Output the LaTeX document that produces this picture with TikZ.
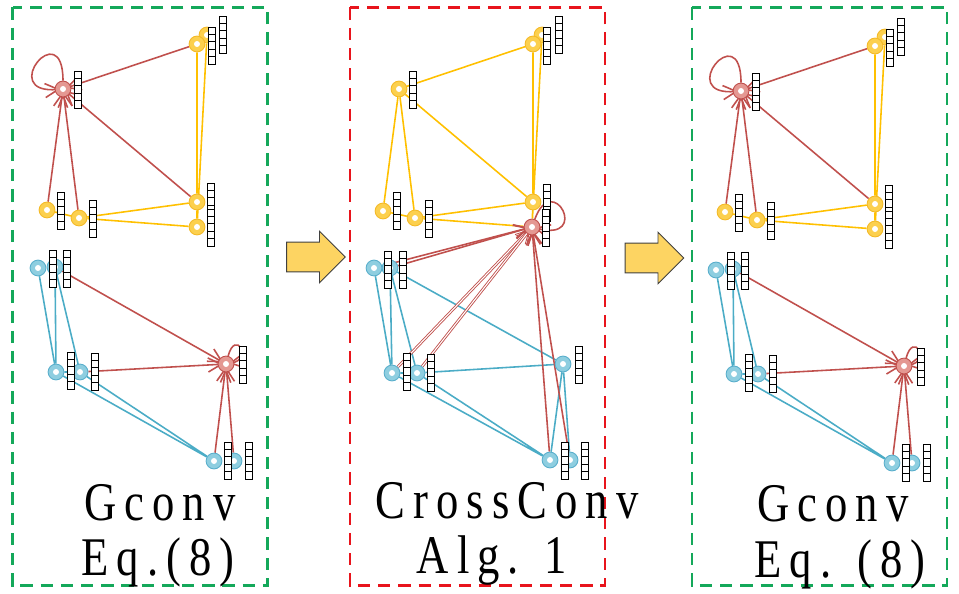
\documentclass[tikz,border=0pt]{standalone}
\usepackage{fontspec}
\usepackage{graphicx}
\usetikzlibrary{arrows.meta, shapes.arrows, backgrounds}
\newfontfamily\capfont[LetterSpace=18]{Liberation Serif}

\definecolor{gboxcol}{RGB}{20,168,90}
\definecolor{rboxcol}{RGB}{232,20,28}
\definecolor{yfill}{RGB}{252,208,78}
\definecolor{ydraw}{RGB}{244,186,40}
\definecolor{yline}{RGB}{255,192,0}
\definecolor{rfill}{RGB}{228,152,146}
\definecolor{rdraw}{RGB}{192,80,77}
\definecolor{rline}{RGB}{192,80,77}
\definecolor{bfill}{RGB}{142,206,224}
\definecolor{bdraw}{RGB}{90,175,204}
\definecolor{bline}{RGB}{75,172,198}
\definecolor{arrfill}{RGB}{253,212,98}

\tikzset{
  ringnd/.style={circle, minimum size=9pt, inner sep=0pt, line width=0.5pt,
    path picture={\fill[white] (path picture bounding box.center) circle (1.7pt);}},
  ynd/.style={ringnd, fill=yfill, draw=ydraw},
  rnd/.style={ringnd, fill=rfill, draw=rdraw},
  bnd/.style={ringnd, fill=bfill, draw=bdraw},
  yedge/.style={yline, line width=0.9pt},
  bedge/.style={bline, line width=0.9pt},
  redge/.style={rline, line width=0.9pt, -{Straight Barb[length=7.5pt, width=8pt]}, shorten >=-3pt},
  fvbox/.style={draw=black, fill=white, line width=0.5pt},
  gbox/.style={gboxcol, line width=1.2pt, dash pattern=on 7pt off 4.5pt},
  rbox/.style={rboxcol, line width=1.2pt, dash pattern=on 7pt off 4.5pt},
  bigarrow/.style={single arrow, draw=black!75, fill=arrfill, line width=0.5pt,
    inner sep=8.2pt, minimum height=33.4pt, single arrow head extend=6.2pt},
  lbl/.style={font=\capfont\fontsize{31}{34}\selectfont, anchor=base, inner sep=0pt}
}

% stack of five feature cells, top left corner given
\newcommand{\fvec}[2]{\foreach \k in {0,...,4} \draw[fvbox] (#1,#2+7.4*\k) rectangle ++(7.5,7.4);}
\newcommand{\narrowtxt}[1]{\scalebox{0.82}[1]{#1}}

% the two graphs of a Gconv panel
\newcommand{\gconvgraph}{%
  % upper graph
  \node[ynd] (y2) at (207,35) {};
  \node[ynd] (y1) at (197,44) {};
  \node[ynd] (y3) at (197,202) {};
  \node[ynd] (y4) at (197,227) {};
  \node[ynd] (y5) at (47,210) {};
  \node[ynd] (y6) at (79,218) {};
  \node[rnd] (r1) at (63,89) {};
  % lower graph
  \node[bnd] (b2) at (55,267) {};
  \node[bnd] (b1) at (38,268) {};
  \node[bnd] (b3) at (56,372) {};
  \node[bnd] (b4) at (80,372) {};
  \node[bnd] (b6) at (234,461) {};
  \node[bnd] (b5) at (214,461) {};
  \node[rnd] (r2) at (226,364) {};
  \begin{scope}[on background layer]
    \draw[yedge] (y1) -- (y3) (y2) -- (y4) (y3) -- (y4) (y5) -- (y6) (y6) -- (y3) (y6) -- (y4);
    \draw[redge] (y1) -- (r1);
    \draw[redge] (y3) -- (r1);
    \draw[redge] (y5) -- (r1);
    \draw[redge] (y6) -- (r1);
    \draw[redge] (r1) to[out=90, in=185, min distance=38pt] (r1);
    \draw[bedge] (b1) -- (b3) (b2) -- (b3) (b2) -- (b4) (b3) -- (b4) (b3) -- (b5) (b4) -- (b5);
    \draw[redge] (b2) -- (r2);
    \draw[redge] (b4) -- (r2);
    \draw[redge] (b5) -- (r2);
    \draw[redge] (b6) -- (r2);
    \draw[redge] (r2) to[out=75, in=10, min distance=16pt] (r2);
  \end{scope}
  % feature vectors
  \fvec{74}{71} \fvec{208}{27} \fvec{219}{16} \fvec{207}{183} \fvec{207}{209}
  \fvec{57}{192} \fvec{89}{200}
  \fvec{49}{250} \fvec{63}{250} \fvec{67}{352} \fvec{91}{353} \fvec{239}{346}
  \fvec{224}{442} \fvec{245}{442}
}

\begin{document}
\begin{tikzpicture}[x=0.02cm, y=-0.02cm]
  \useasboundingbox (0,0) rectangle (959,594);

  % Draw the boxes
  \draw[gbox] (12.5,7.5) rectangle (267.5,585.5);
  \draw[rbox] (350,7.5) rectangle (605,585.5);
  \draw[gbox] (692,7.5) rectangle (947,585.5);

  % first Gconv
  \begin{scope}[name prefix=pa-]
    \gconvgraph
  \end{scope}

  % CrossConv panel
  \node[ynd] (cy2) at (542,35) {};
  \node[ynd] (cy1) at (533,44) {};
  \node[ynd] (cya) at (399,89) {};
  \node[ynd] (cy3) at (533,202) {};
  \node[ynd] (cy5) at (383,211) {};
  \node[ynd] (cy6) at (415,218) {};
  \node[rnd] (cr) at (532,227) {};
  \node[bnd] (cb2) at (390,268) {};
  \node[bnd] (cb1) at (374,268) {};
  \node[bnd] (cb3) at (392,373) {};
  \node[bnd] (cb4) at (417,373) {};
  \node[bnd] (cbm) at (563,364) {};
  \node[bnd] (cb6) at (570,460) {};
  \node[bnd] (cb5) at (550,460) {};
  \begin{scope}[on background layer]
    \draw[yedge] (cya) -- (cy1) (cya) -- (cy5) (cya) -- (cy6) (cya) -- (cy3) (cy1) -- (cy3)
      (cy2) -- (cr) (cy3) -- (cr) (cy5) -- (cy6) (cy6) -- (cy3) (cy6) -- (cr);
    \draw[bedge] (cb1) -- (cb3) (cb2) -- (cb3) (cb2) -- (cb4) (cb3) -- (cb4) (cb2) -- (cbm)
      (cb4) -- (cbm) (cb3) -- (cb5) (cb4) -- (cb5) (cbm) -- (cb5) (cbm) -- (cb6);
    \draw[redge] (cb1) -- (cr);
    \draw[redge] (cb2) -- (cr);
    \draw[redge, double, double distance=0.6pt, line width=0.5pt] (cb3) -- (cr);
    \draw[redge, double, double distance=0.6pt, line width=0.5pt] (cb4) -- (cr);
    \draw[redge] (cb5) -- (cr);
    \draw[redge] (cb6) -- (cr);
    \draw[redge] (cr) to[out=70, in=-15, min distance=30pt] (cr);
  \end{scope}
  \fvec{409}{71} \fvec{543}{27} \fvec{555}{16} \fvec{543}{184} \fvec{542}{209}
  \fvec{393}{192} \fvec{425}{200}
  \fvec{384}{251} \fvec{399}{251} \fvec{403}{353} \fvec{427}{354} \fvec{575}{346}
  \fvec{561}{442} \fvec{581}{442}

  % second Gconv
  \begin{scope}[shift={(678,2)}, name prefix=pc-]
    \gconvgraph
  \end{scope}

  % arrows between the panels
  \node[bigarrow] (arrA) at (308.5,257) {};
  \node[bigarrow] (arrB) at (647,258) {};

  % labels
  \node[lbl] (gca) at (160,520) {\narrowtxt{Gconv}};
  \node[lbl] (eqa) at (158,575) {\narrowtxt{Eq.(8)}};
  \node[lbl] (ccv) at (507,518) {\narrowtxt{CrossConv}};
  \node[lbl] (alg) at (492,573) {\narrowtxt{Alg. 1}};
  \node[lbl] (gcc) at (833,521) {\narrowtxt{Gconv}};
  \node[lbl] (eqc) at (840,577) {\narrowtxt{Eq. (8)}};
\end{tikzpicture}
\end{document}
